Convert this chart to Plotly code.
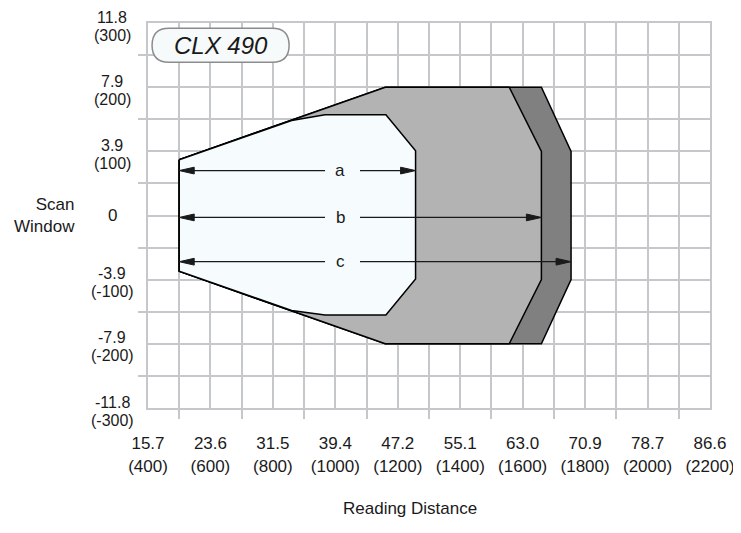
import plotly.graph_objects as go

# Reading distance (mm) with inch equivalents
x_ticks = [400, 600, 800, 1000, 1200, 1400, 1600, 1800, 2000, 2200]
x_inch = ["15.7", "23.6", "31.5", "39.4", "47.2", "55.1", "63.0", "70.9", "78.7", "86.6"]

# Scan window (mm) with inch equivalents
y_ticks = [300, 200, 100, 0, -100, -200, -300]
y_inch = ["11.8", "7.9", "3.9", "0", "-3.9", "-7.9", "-11.8"]

# read-field outlines (x = distance mm, y = window mm)
c_x = [500, 1160, 1660, 1755, 1755, 1660, 1160, 500]
c_y = [87, 200, 200, 100, -100, -200, -200, -87]
b_x = [500, 1160, 1557, 1660, 1660, 1557, 1160, 500]
b_y = [87, 200, 200, 100, -100, -200, -200, -87]
a_x = [500, 860, 967, 1162, 1257, 1257, 1162, 967, 860, 500]
a_y = [87, 148, 157, 157, 101, -99, -155, -155, -148, -87]

# dimension arrows
dim_names = ["a", "b", "c"]
dim_start = [500, 500, 500]
dim_end = [1257, 1660, 1755]
dim_y = [70, -3, -72]
dim_label_x = 1015

GRID = "#C4C8CB"
INK = "#1a1a1a"
FONT = "Liberation Sans"

fig = go.Figure()

# polygons, back to front
for xs, ys, col in [(c_x, c_y, "#808080"), (b_x, b_y, "#B3B3B3"), (a_x, a_y, "#F6FCFE")]:
    fig.add_trace(go.Scatter(
        x=xs + [xs[0]], y=ys + [ys[0]],
        mode="lines", fill="toself", fillcolor=col,
        line=dict(color="black", width=1.5),
        hoverinfo="skip", showlegend=False,
    ))

# arrow shafts and heads (head size in data units ~ 15px x 7px)
head_len = 48
head_half = 5.3
for name, x0, x1, yv in zip(dim_names, dim_start, dim_end, dim_y):
    fig.add_trace(go.Scatter(
        x=[x0 + 10, dim_label_x - 48, None, dim_label_x + 64, x1 - 10],
        y=[yv, yv, None, yv, yv],
        mode="lines", line=dict(color=INK, width=1.3),
        hoverinfo="skip", showlegend=False,
    ))
    for tip, d in [(x0, 1), (x1, -1)]:
        fig.add_trace(go.Scatter(
            x=[tip, tip + d * head_len, tip + d * head_len, tip],
            y=[yv, yv + head_half, yv - head_half, yv],
            mode="lines", fill="toself", fillcolor=INK,
            line=dict(color=INK, width=1),
            hoverinfo="skip", showlegend=False,
        ))
    fig.add_annotation(x=dim_label_x, y=yv, text=name, showarrow=False,
                       font=dict(size=17, color=INK, family=FONT))

# y tick labels: inch line above, mm line below, centred
lab_font = dict(size=17, color=INK, family=FONT)
ylab_font = dict(size=16, color=INK, family=FONT)
for v, inch in zip(y_ticks, y_inch):
    if v == 0:
        fig.add_annotation(x=-0.064, xref="paper", y=v, yref="y", text=inch,
                           showarrow=False, xanchor="center", font=lab_font)
        continue
    fig.add_annotation(x=-0.064, xref="paper", y=v, yref="y", text=inch,
                       showarrow=False, xanchor="center", yshift=6, borderpad=0,
                       font=ylab_font)
    fig.add_annotation(x=-0.064, xref="paper", y=v, yref="y", text=f"({v})",
                       showarrow=False, xanchor="center", yshift=-12, borderpad=0,
                       font=ylab_font)

# model badge
bx0, bx1, by0, by1 = 413, 852, 239, 292
rx = 54
ym = (by0 + by1) / 2
badge = (f"M{bx0+rx},{by1} L{bx1-rx},{by1} Q{bx1},{by1} {bx1},{ym} "
         f"Q{bx1},{by0} {bx1-rx},{by0} L{bx0+rx},{by0} Q{bx0},{by0} {bx0},{ym} "
         f"Q{bx0},{by1} {bx0+rx},{by1} Z")
fig.add_shape(type="path", path=badge, xref="x", yref="y",
              fillcolor="#F7FAFB", line=dict(color="#8C8C8C", width=1.5))
fig.add_annotation(x=635, y=265, text="<i>CLX 490</i>", showarrow=False,
                   font=dict(size=24, color=INK, family=FONT))

# axis titles
fig.add_annotation(x=-0.126, xref="paper", y=0, yref="y", text="Scan<br>Window",
                   showarrow=False, xanchor="right", align="right", font=lab_font)
fig.add_annotation(x=0.466, xref="paper", y=-0.29, yref="paper", text="Reading Distance",
                   showarrow=False, font=lab_font)

x_minor = [(p + q) / 2 for p, q in zip(x_ticks[:-1], x_ticks[1:])]
y_minor = [(p + q) / 2 for p, q in zip(y_ticks[:-1], y_ticks[1:])]

# the page body adds an 8px margin top/left, so the figure is 8px smaller
fig.update_layout(
    width=733, height=525,
    margin=dict(l=140, r=31, t=15, b=125),
    plot_bgcolor="white", paper_bgcolor="white",
    font=dict(family=FONT, size=17, color=INK),
    xaxis=dict(
        range=[400, 2200], tickvals=x_ticks, automargin=False,
        ticktext=[f"{i}<br>({m})" for i, m in zip(x_inch, x_ticks)],
        ticks="", ticklabelstandoff=19,
        showgrid=True, gridcolor=GRID, gridwidth=2, zeroline=False,
        showline=True, mirror=True, linecolor=GRID, linewidth=2,
        minor=dict(tickvals=x_minor, ticks="outside", ticklen=9, tickwidth=2,
                   tickcolor=GRID, showgrid=True, gridcolor=GRID, gridwidth=2),
    ),
    yaxis=dict(
        range=[-300, 300], tickvals=y_ticks, showticklabels=False, ticks="",
        automargin=False,
        showgrid=True, gridcolor=GRID, gridwidth=2, zeroline=False,
        showline=True, mirror=True, linecolor=GRID, linewidth=2,
        minor=dict(tickvals=y_minor, ticks="outside", ticklen=8, tickwidth=2,
                   tickcolor=GRID, showgrid=True, gridcolor=GRID, gridwidth=2),
    ),
)

fig.write_html("out.html")
